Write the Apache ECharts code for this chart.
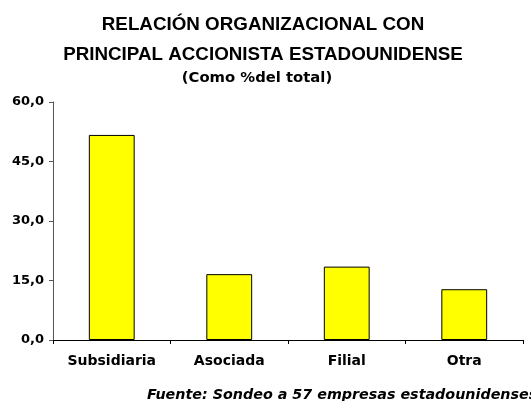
<!DOCTYPE html>
<html>
<head>
<meta charset="utf-8">
<script src="https://cdn.jsdelivr.net/npm/echarts@6/dist/echarts.min.js"></script>
<style>
  html, body { margin: 0; padding: 0; background: #fff; }
  #chart { width: 531px; height: 401px; }
</style>
</head>
<body>
<div id="chart"></div>
<script>
// datos del grafico
var categorias = ['Subsidiaria', 'Asociada', 'Filial', 'Otra'];
var porcentajes = [51.7, 16.6, 18.5, 12.8];
var ticksY = [0, 15, 30, 45, 60];

var fuente = '"Liberation Sans", Arial, sans-serif';
var fuenteAncha = '"DejaVu Sans", Verdana, sans-serif';

var myChart = echarts.init(document.getElementById('chart'));

var option = {
    backgroundColor: '#fff',
    animation: false,
    title: [
        {
            text: 'RELACIÓN ORGANIZACIONAL CON\nPRINCIPAL ACCIONISTA ESTADOUNIDENSE',
            left: 258,
            textAlign: 'center',
            top: 5,
            textStyle: {
                fontFamily: fuente,
                fontWeight: 'bold',
                fontSize: 18.8,
                lineHeight: 30,
                color: '#000'
            }
        },
        {
            text: '(Como %del total)',
            left: 252,
            textAlign: 'center',
            top: 66,
            textStyle: {
                fontFamily: fuenteAncha,
                fontWeight: 'bold',
                fontSize: 14.8,
                color: '#000'
            }
        }
    ],
    grid: {
        left: 53,
        right: 8,
        top: 102,
        bottom: 61,
        containLabel: false
    },
    xAxis: {
        type: 'category',
        data: categorias,
        axisLine: { lineStyle: { color: '#000', width: 1 } },
        axisTick: { show: true, inside: false, length: 4, alignWithLabel: false, lineStyle: { color: '#000' } },
        axisLabel: {
            margin: 14,
            fontFamily: fuenteAncha,
            fontWeight: 'bold',
            fontSize: 14,
            color: '#000'
        }
    },
    yAxis: {
        type: 'value',
        min: ticksY[0],
        max: ticksY[ticksY.length - 1],
        interval: 15,
        splitLine: { show: false },
        axisLine: { show: true, lineStyle: { color: '#555', width: 1 } },
        axisTick: { show: true, length: 4, lineStyle: { color: '#555' } },
        axisLabel: {
            margin: 9,
            fontFamily: fuenteAncha,
            fontWeight: 'bold',
            fontSize: 13,
            color: '#000',
            formatter: function (v) {
                return v.toFixed(1).replace('.', ',');
            }
        }
    },
    series: [
        {
            type: 'bar',
            data: porcentajes,
            barWidth: '39%',
            itemStyle: {
                color: '#ffff00',
                borderColor: '#000',
                borderWidth: 1
            }
        }
    ],
    graphic: [
        {
            type: 'text',
            x: 147,
            y: 388,
            style: {
                text: 'Fuente: Sondeo a 57 empresas estadounidenses',
                font: 'italic bold 14.3px ' + fuenteAncha,
                fill: '#000'
            }
        }
    ]
};

myChart.setOption(option);
</script>
</body>
</html>
